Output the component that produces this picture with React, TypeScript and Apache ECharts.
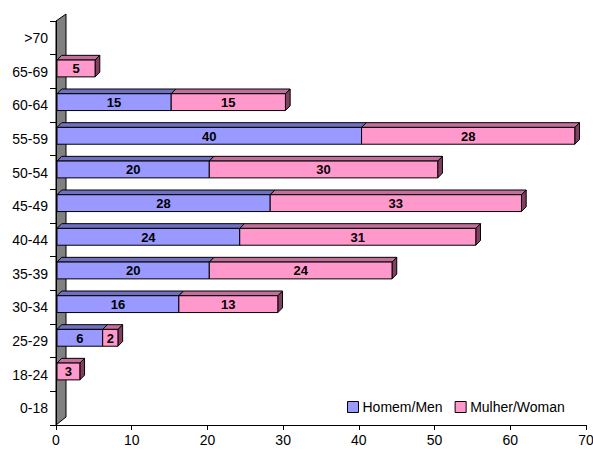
import React, { useEffect, useRef } from "react";
import * as echarts from "echarts";

const categories = ["0-18", "18-24", "25-29", "30-34", "35-39", "40-44", "45-49", "50-54", "55-59", "60-64", "65-69", ">70"];
const menValues = [0, 0, 6, 16, 20, 24, 28, 20, 40, 15, 0, 0];
const womenValues = [0, 3, 2, 13, 24, 31, 33, 30, 28, 15, 5, 0];
const xTicks = [0, 10, 20, 30, 40, 50, 60, 70];

const MEN = { front: "#9999FF", top: "#7070C0", side: "#5C5CA3" };
const WOMEN = { front: "#FF99CC", top: "#C0709A", side: "#80405F" };

function makeRender(colors: { front: string; top: string; side: string }) {
  return (params: any, api: any) => {
    const cat = api.value(0);
    const start = api.value(1);
    const end = api.value(2);
    const label = api.value(3);
    if (!(end - start > 0)) return null;
    const p0 = api.coord([start, cat]);
    const p1 = api.coord([end, cat]);
    const band = api.size([0, 1])[1];
    const h = band * 0.5;
    const cy = p0[1] - band * 0.09;
    const y0 = cy - h / 2;
    const y1 = cy + h / 2;
    const d = band * 0.14;
    const x0 = p0[0];
    const x1 = p1[0];
    const stroke = { stroke: "#000", lineWidth: 1 };
    return {
      type: "group",
      children: [
        {
          type: "polygon",
          shape: { points: [[x1, y0], [x1 + d, y0 - d], [x1 + d, y1 - d], [x1, y1]] },
          style: { fill: colors.side, ...stroke },
        },
        {
          type: "polygon",
          shape: { points: [[x0, y0], [x0 + d, y0 - d], [x1 + d, y0 - d], [x1, y0]] },
          style: { fill: colors.top, ...stroke },
        },
        {
          type: "rect",
          shape: { x: x0, y: y0, width: x1 - x0, height: y1 - y0 },
          style: { fill: colors.front, ...stroke },
        },
        {
          type: "text",
          x: (x0 + x1) / 2,
          y: cy + 0.5,
          style: {
            text: String(label),
            fill: "#000",
            font: "bold 13px 'Liberation Sans', Arial, sans-serif",
            align: "center",
            verticalAlign: "middle",
          },
        },
      ],
    };
  };
}

export default function App() {
  const ref = useRef<HTMLDivElement>(null);
  useEffect(() => {
    if (!ref.current) return;
    const chart = echarts.init(ref.current, undefined, { renderer: "svg" });
    const menData = categories.map((_, i) => [i, 0, menValues[i], menValues[i]]);
    const womenData = categories.map((_, i) => [i, menValues[i], menValues[i] + womenValues[i], womenValues[i]]);
    const font = "'Liberation Sans', Arial, sans-serif";
    chart.setOption({
      animation: false,
      backgroundColor: "#fff",
      grid: [
        { left: 56, right: 7, top: 21, bottom: 25, outerBoundsMode: "none" },
        { left: 57, right: 3, top: 21, bottom: 25, outerBoundsMode: "none" },
      ],
      xAxis: [
        {
          gridIndex: 0,
          type: "value",
          min: 0,
          max: 70,
          interval: 10,
          splitLine: { show: false },
          axisLine: { show: true, lineStyle: { color: "#000", width: 1 } },
          axisTick: { show: true, length: 5, lineStyle: { color: "#000" } },
          axisLabel: {
            color: "#000",
            fontSize: 14,
            fontFamily: font,
            margin: 8,
            formatter: (v: number) => (xTicks.includes(v) ? String(v) : ""),
          },
        },
        { gridIndex: 1, type: "value", min: 0, max: 70, show: false },
      ],
      yAxis: [
        {
          gridIndex: 0,
          type: "category",
          data: categories,
          axisLine: { show: true, lineStyle: { color: "#000", width: 1 } },
          axisTick: { show: true, length: 6, lineStyle: { color: "#000" } },
          axisLabel: { color: "#000", fontSize: 14, fontFamily: font, margin: 8 },
        },
        { gridIndex: 1, type: "category", data: categories, show: false },
      ],
      legend: {
        left: 342,
        top: 395,
        itemWidth: 11,
        itemHeight: 11,
        itemGap: 12,
        icon: "rect",
        itemStyle: { borderColor: "#000", borderWidth: 1 },
        textStyle: { color: "#000", fontSize: 14, fontFamily: font, padding: [0, 0, 0, -1] },
        data: ["Homem/Men", "Mulher/Woman"],
      },
      graphic: [
        {
          type: "polygon",
          z: 0,
          shape: { points: [[56, 21], [66, 14], [66, 417], [56, 425]] },
          style: { fill: "#808080", stroke: "#000", lineWidth: 1 },
        },
      ],
      series: [
        {
          name: "Homem/Men",
          type: "custom",
          xAxisIndex: 1,
          yAxisIndex: 1,
          itemStyle: { color: MEN.front, borderColor: "#000", borderWidth: 1 },
          encode: { x: [1, 2], y: 0 },
          renderItem: makeRender(MEN),
          data: menData,
          z: 3,
        },
        {
          name: "Mulher/Woman",
          type: "custom",
          xAxisIndex: 1,
          yAxisIndex: 1,
          itemStyle: { color: WOMEN.front, borderColor: "#000", borderWidth: 1 },
          encode: { x: [1, 2], y: 0 },
          renderItem: makeRender(WOMEN),
          data: womenData,
          z: 4,
        },
      ],
    });
    return () => chart.dispose();
  }, []);
  return <div ref={ref} style={{ width: 593, height: 450, position: "absolute", left: 0, top: 0 }} />;
}
